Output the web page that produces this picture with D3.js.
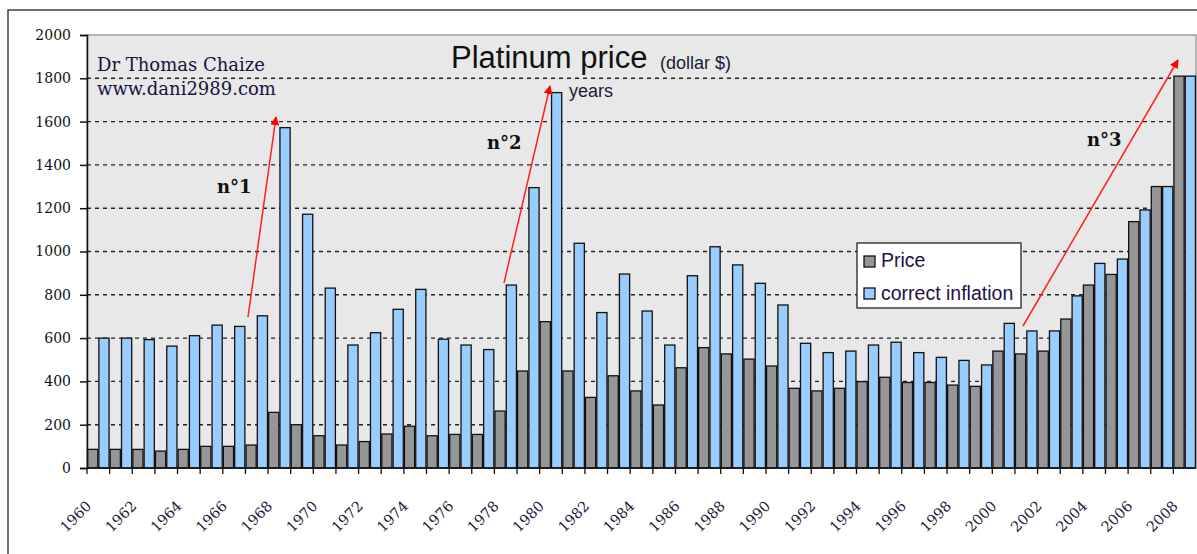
<!DOCTYPE html>
<html>
<head>
<meta charset="utf-8">
<script src="https://cdn.jsdelivr.net/npm/d3@7"></script>
<style>
  html, body { margin: 0; padding: 0; background: #fff; }
  svg { display: block; }
</style>
</head>
<body>
<svg id="chart" width="1197" height="554"></svg>
<script>
// ---- data ----
const years = d3.range(1960, 2009);
const price = [86, 86, 86, 78, 86, 100, 100, 106, 257, 200,
               149, 106, 122, 157, 193, 149, 155, 155, 263, 448,
               676, 448, 326, 426, 356, 291, 463, 556, 527, 503,
               471, 368, 356, 368, 399, 419, 395, 395, 383, 377,
               540, 527, 540, 688, 845, 894, 1138, 1300, 1810];
const inflation = [600, 600, 593, 563, 611, 660, 654, 703, 1572, 1172,
                   831, 568, 625, 733, 825, 595, 568, 547, 845, 1295,
                   1734, 1038, 718, 896, 725, 568, 888, 1022, 938, 853,
                   753, 576, 533, 540, 568, 581, 533, 511, 497, 476,
                   668, 633, 633, 795, 945, 965, 1192, 1300, 1810];
const yTicks = [0, 200, 400, 600, 800, 1000, 1200, 1400, 1600, 1800, 2000];
const xTickLabels = years.filter((y, i) => i % 2 === 0);
const seriesNames = ["Price", "correct inflation"];
const seriesColors = ["#969696", "#99ccff"];

// ---- layout ----
const svg = d3.select("#chart");
const L = 87, R = 1196, T = 35, B = 468;

// outer frame
svg.append("rect").attr("x", 8).attr("y", 10).attr("width", 1200).attr("height", 560)
  .attr("fill", "#fff").attr("stroke", "#404040").attr("stroke-width", 1.5);

const x = d3.scaleBand().domain(years).range([L, R]).padding(0);
const xs = d3.scaleBand().domain([0, 1]).range([0, x.bandwidth()]).paddingInner(0.1).paddingOuter(0.05);
const y = d3.scaleLinear().domain([0, 2000]).range([B, T]);

// plot area
svg.append("rect").attr("x", L).attr("y", T).attr("width", R - L).attr("height", B - T)
  .attr("fill", "#e8e8e8").attr("stroke", "#a0a0a0").attr("stroke-width", 1.5);

// gridlines
svg.append("g").selectAll("line").data(yTicks.filter(v => v > 0 && v < 2000)).join("line")
  .attr("x1", L).attr("x2", R).attr("y1", d => y(d)).attr("y2", d => y(d))
  .attr("stroke", "#222").attr("stroke-width", 1.4).attr("stroke-dasharray", "4,4");

// bars
const rows = years.map((yr, i) => ({ yr, vals: [price[i], inflation[i]] }));
const g = svg.append("g");
rows.forEach(r => {
  r.vals.forEach((v, s) => {
    g.append("rect")
      .attr("x", x(r.yr) + xs(s))
      .attr("y", y(v))
      .attr("width", xs.bandwidth())
      .attr("height", B - y(v))
      .attr("fill", seriesColors[s])
      .attr("stroke", "#111")
      .attr("stroke-width", 1.3);
  });
});

// y axis
const yAxis = d3.axisLeft(y).tickValues(yTicks).tickSize(7).tickPadding(9).tickFormat(d3.format("d"));
const ya = svg.append("g").attr("transform", `translate(${L},0)`).call(yAxis);
ya.select(".domain").attr("stroke", "#111").attr("stroke-width", 1.5);
ya.selectAll(".tick line").attr("stroke", "#111").attr("stroke-width", 1.5);
ya.selectAll("text").attr("font-family", "DejaVu Serif").attr("font-size", 14).attr("fill", "#111");

// x axis (ticks at category boundaries)
const xa = svg.append("g");
xa.append("line").attr("x1", L).attr("x2", R).attr("y1", B).attr("y2", B)
  .attr("stroke", "#111").attr("stroke-width", 1.5);
xa.selectAll("line.tk").data(years).join("line").attr("class", "tk")
  .attr("x1", d => x(d)).attr("x2", d => x(d)).attr("y1", B).attr("y2", B + 6)
  .attr("stroke", "#111").attr("stroke-width", 1.3);
xa.selectAll("text").data(xTickLabels).join("text")
  .attr("transform", d => `translate(${x(d) + x.bandwidth() / 2 - 6},507) rotate(-45)`)
  .attr("text-anchor", "end")
  .attr("font-family", "DejaVu Serif").attr("font-size", 14.5).attr("fill", "#1a1a3a")
  .text(d => d);

// title
svg.append("text").attr("x", 451).attr("y", 68).attr("font-family", "Liberation Sans, Arial")
  .attr("font-size", 31).attr("fill", "#111").text("Platinum price");
svg.append("text").attr("x", 660).attr("y", 69).attr("font-family", "Liberation Sans, Arial")
  .attr("font-size", 18).attr("fill", "#1a1a3a").text("(dollar $)");
svg.append("text").attr("x", 569).attr("y", 97).attr("font-family", "Liberation Sans, Arial")
  .attr("font-size", 18).attr("fill", "#1a1a3a").text("years");

// author
svg.append("text").attr("x", 97).attr("y", 71).attr("font-family", "DejaVu Serif")
  .attr("font-size", 18).attr("fill", "#1a1040").text("Dr Thomas Chaize");
svg.append("text").attr("x", 97).attr("y", 95).attr("font-family", "DejaVu Serif")
  .attr("font-size", 18).attr("fill", "#1a1040").text("www.dani2989.com");

// arrows
const defs = svg.append("defs");
defs.append("marker").attr("id", "ah").attr("viewBox", "0 0 10 10").attr("refX", 9).attr("refY", 5)
  .attr("markerWidth", 9).attr("markerHeight", 9).attr("markerUnits", "userSpaceOnUse")
  .attr("orient", "auto").append("path").attr("d", "M0,0 L10,5 L0,10 z").attr("fill", "#ff0000");
const arrows = [
  { x1: 248, y1: 317, x2: 276, y2: 117 },
  { x1: 504, y1: 283, x2: 550, y2: 86 },
  { x1: 1023, y1: 326, x2: 1178, y2: 60 }
];
svg.append("g").selectAll("line").data(arrows).join("line")
  .attr("x1", d => d.x1).attr("y1", d => d.y1).attr("x2", d => d.x2).attr("y2", d => d.y2)
  .attr("stroke", "#ff2020").attr("stroke-width", 1.5).attr("marker-end", "url(#ah)");

const notes = [{ t: "n°1", x: 217, y: 193 }, { t: "n°2", x: 487, y: 149 }, { t: "n°3", x: 1087, y: 146 }];
svg.append("g").selectAll("text").data(notes).join("text")
  .attr("x", d => d.x).attr("y", d => d.y).attr("font-family", "DejaVu Serif").attr("font-weight", "bold")
  .attr("font-size", 18).attr("fill", "#111").text(d => d.t);

// legend
const lg = svg.append("g");
lg.append("rect").attr("x", 857).attr("y", 243).attr("width", 164).attr("height", 65)
  .attr("fill", "#fff").attr("stroke", "#222").attr("stroke-width", 1.3);
seriesNames.forEach((n, i) => {
  lg.append("rect").attr("x", 864).attr("y", 256 + i * 32).attr("width", 11).attr("height", 11)
    .attr("fill", seriesColors[i]).attr("stroke", "#111").attr("stroke-width", 1.3);
  lg.append("text").attr("x", 881).attr("y", 267 + i * 33).attr("font-family", "Liberation Sans, Arial")
    .attr("font-size", 19.5).attr("fill", "#221144").text(n);
});
</script>
</body>
</html>
